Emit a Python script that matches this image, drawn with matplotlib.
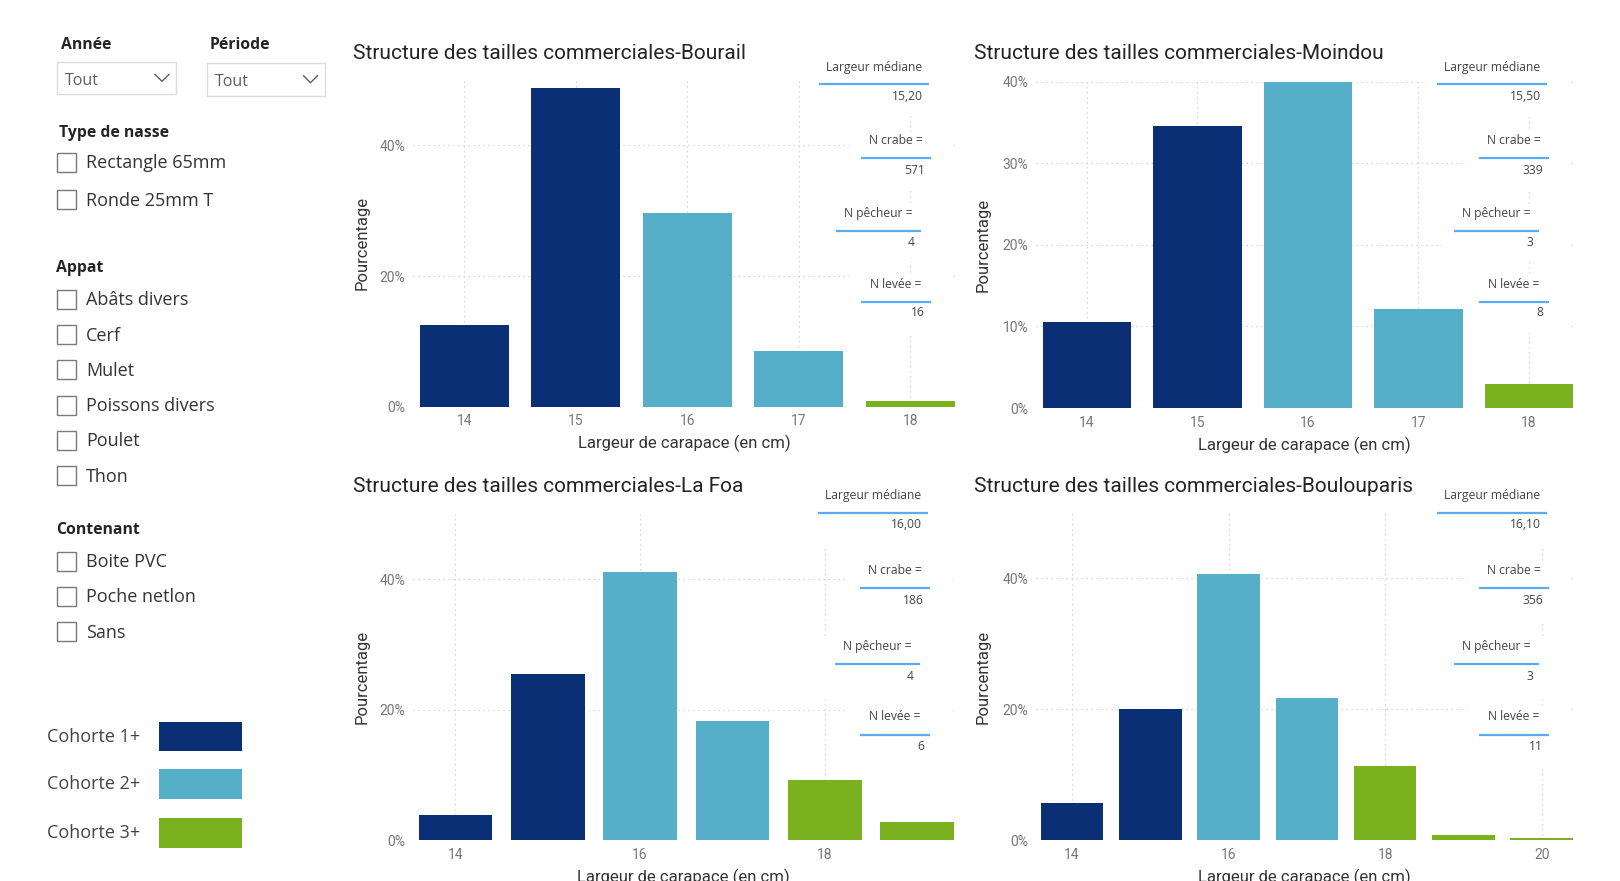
import matplotlib.pyplot as plt
from matplotlib.patches import Rectangle
from matplotlib.ticker import FuncFormatter, MultipleLocator

plt.rcParams['font.family'] = ['Roboto', 'DejaVu Sans']

W, H = 1620, 881

# --- données ---
sites = ["Bourail", "Moindou", "La Foa", "Boulouparis"]

tailles_bourail = [14, 15, 16, 17, 18]
pct_bourail = [12.5, 48.8, 29.6, 8.5, 0.9]
cohorte_bourail = [1, 1, 2, 2, 3]

tailles_moindou = [14, 15, 16, 17, 18]
pct_moindou = [10.6, 34.6, 39.9, 12.1, 3.0]
cohorte_moindou = [1, 1, 2, 2, 3]

tailles_lafoa = [14, 15, 16, 17, 18, 19]
pct_lafoa = [3.8, 25.5, 41.1, 18.3, 9.2, 2.7]
cohorte_lafoa = [1, 1, 2, 2, 3, 3]

tailles_boulouparis = [14, 15, 16, 17, 18, 19, 20]
pct_boulouparis = [5.7, 20.0, 40.6, 21.7, 11.3, 0.8, 0.35]
cohorte_boulouparis = [1, 1, 2, 2, 3, 3, 3]

largeur_mediane = ["15,20", "15,50", "16,00", "16,10"]
n_crabe = [571, 339, 186, 356]
n_pecheur = [4, 3, 4, 3]
n_levee = [16, 8, 6, 11]

cohortes = ["Cohorte 1+", "Cohorte 2+", "Cohorte 3+"]
couleurs = {1: "#0b2f74", 2: "#55afc8", 3: "#7ab11f"}

type_nasse = ["Rectangle 65mm", "Ronde 25mm T"]
appats = ["Abâts divers", "Cerf", "Mulet", "Poissons divers", "Poulet", "Thon"]
contenants = ["Boite PVC", "Poche netlon", "Sans"]

series = [
    (tailles_bourail, pct_bourail, cohorte_bourail),
    (tailles_moindou, pct_moindou, cohorte_moindou),
    (tailles_lafoa, pct_lafoa, cohorte_lafoa),
    (tailles_boulouparis, pct_boulouparis, cohorte_boulouparis),
]

# --- mise en page (pixels) ---
boites = [(413, 80, 955, 406.7), (1036, 81.6, 1573, 408),
          (413, 514, 954, 840), (1036, 513, 1573, 840)]
titres_xy = [(353, 53.5), (974, 53.5), (353, 486), (974, 486)]
ymax = [50, 40, 50, 50]
ypas = [20, 10, 20, 20]
xpas = [1, 1, 2, 2]
ylabel_x = [362.6, 983.5, 362.6, 983.5]

fig = plt.figure(figsize=(W / 100, H / 100), dpi=100)
fig.patch.set_facecolor("white")

grid_style = dict(color="#cccccc", linestyle=(0, (1, 3)), linewidth=0.9)

for i, (tailles, pct, coh) in enumerate(series):
    L, T, R, B = boites[i]
    ax = fig.add_axes([L / W, 1 - B / H, (R - L) / W, (B - T) / H])
    ax.bar(tailles, pct, width=0.8, color=[couleurs[c] for c in coh], zorder=3)
    ax.set_xlim(13.54, tailles[-1] + 0.4)
    ax.set_ylim(0, ymax[i])
    ax.yaxis.set_major_locator(MultipleLocator(ypas[i]))
    ax.xaxis.set_major_locator(MultipleLocator(xpas[i]))
    ax.yaxis.set_major_formatter(FuncFormatter(lambda v, p: f"{v:.0f}%"))
    ax.grid(True, **grid_style)
    ax.set_axisbelow(True)
    for s in ax.spines.values():
        s.set_visible(False)
    ax.tick_params(length=0, labelsize=10, labelcolor="#777777", pad=5.5)
    ax.set_xlabel("Largeur de carapace (en cm)", fontsize=12, color="#333333")
    ax.set_ylabel("Pourcentage", fontsize=12, color="#333333")
    ax.xaxis.set_label_coords(0.5, -37 / (B - T))
    ax.xaxis.label.set_verticalalignment("center")
    ax.yaxis.set_label_coords((ylabel_x[i] - L) / (R - L), 0.5)
    ax.yaxis.label.set_verticalalignment("center")
    tx, ty = titres_xy[i]
    fig.text(tx / W, 1 - ty / H, "Structure des tailles commerciales-" + sites[i],
             fontsize=15, color="#252423", ha="left", va="center")

# --- calque en pixels pour les cartes et les segments ---
ov = fig.add_axes([0, 0, 1, 1], zorder=10)
ov.set_xlim(0, W)
ov.set_ylim(H, 0)
ov.axis("off")
ov.patch.set_alpha(0)

carte_labels = ["Largeur médiane", "N crabe =", "N pêcheur =", "N levée ="]
carte_lignes = [(-136, -26), (-94, -24), (-119, -34), (-94, -24)]
carte_y_haut = [(67, 84, 96), (141, 158, 170), (213, 230.5, 242), (284, 302, 313)]
carte_y_bas = [(495, 513, 524.5), (571, 588, 600.7), (646.7, 664, 676), (717, 734.5, 746)]

for i in range(4):
    R = boites[i][2]
    valeurs = [largeur_mediane[i], str(n_crabe[i]), str(n_pecheur[i]), str(n_levee[i])]
    ys = carte_y_haut if i < 2 else carte_y_bas
    for (l, r), lab, val, (ly, lny, vy) in zip(carte_lignes, carte_labels, valeurs, ys):
        x0, x1 = R + l, R + r
        ov.add_patch(Rectangle((x0 - 12, ly - 9), (R - 3) - (x0 - 12), (vy + 20) - (ly - 9),
                               facecolor="white", edgecolor="none"))
        ov.text((x0 + x1) / 2, ly, lab, fontsize=8.7, color="#444444",
                ha="center", va="center", family=["Open Sans", "DejaVu Sans"])
        ov.plot([x0, x1], [lny, lny], color="#5aabf0", lw=1.6, solid_capstyle="butt")
        ov.text(x1 - 6, vy, val, fontsize=8.7, color="#444444",
                ha="right", va="center", family=["Open Sans", "DejaVu Sans"])

# --- segments (filtres) ---
slicer_font = ["Open Sans", "DejaVu Sans"]
entete = dict(fontsize=11.3, fontweight="bold", color="#252423", ha="left", va="center",
              family=slicer_font)
item = dict(fontsize=13, color="#333333", ha="left", va="center", family=slicer_font)

ov.text(61, 45, "Année", **entete)
ov.text(210, 45, "Période", **entete)
for (bx, by, bw, bh, cx) in [(57.3, 61.7, 118.7, 32.3, 162), (207, 62.7, 118, 33, 310.5)]:
    ov.add_patch(Rectangle((bx, by), bw, bh, facecolor="white", edgecolor="#dcdcdc", lw=1))
    ov.text(bx + 8, by + bh / 2 + 3, "Tout", fontsize=11.5, color="#605e5c", ha="left",
            va="center", family=slicer_font)
    cy = by + bh / 2
    ov.plot([cx - 7, cx, cx + 7], [cy - 3.5, cy + 3.5, cy - 3.5], color="#605e5c", lw=1)


def case(y, texte):
    ov.add_patch(Rectangle((56.5, y - 9.5), 19, 19, facecolor="white", edgecolor="#7a7a7a", lw=1))
    ov.text(86, y + 1, texte, **item)


ov.text(59, 132.7, "Type de nasse", **entete)
for k, t in enumerate(type_nasse):
    case(162.5 + k * 37, t)

ov.text(56, 268.3, "Appat", **entete)
for k, t in enumerate(appats):
    case(299.3 + k * 35.3, t)

ov.text(56, 530, "Contenant", **entete)
for k, t in enumerate(contenants):
    case(561 + k * 35.3, t)

# --- légende des cohortes ---
for k, lab in enumerate(cohortes):
    yc = [736.7, 784, 833][k]
    ov.text(47, yc, lab, fontsize=13, color="#444444", ha="left", va="center", family=slicer_font)
    ov.add_patch(Rectangle((159.3, yc - 15), 82.4, 29.5, facecolor=couleurs[k + 1], edgecolor="none"))

fig.savefig("out.png", dpi=100, facecolor="white")
